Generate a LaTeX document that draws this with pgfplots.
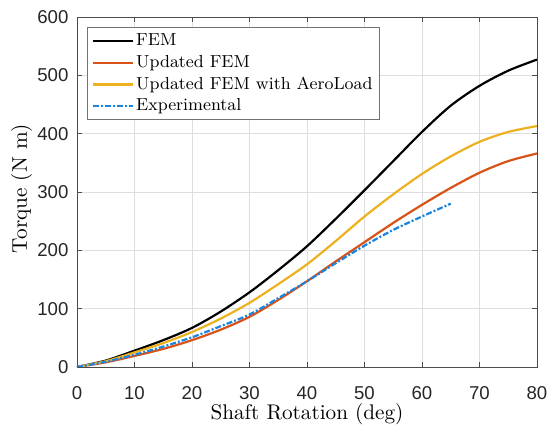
\documentclass[border=0pt]{standalone}
\usepackage{fontspec}
\newfontfamily\arial{Liberation Sans}
\usepackage{pgfplots}
\pgfplotsset{compat=1.18}

\definecolor{mblack}{rgb}{0,0,0}
\definecolor{mred}{rgb}{0.850,0.325,0.098}
\definecolor{myellow}{rgb}{0.929,0.694,0.125}
\definecolor{mblue}{rgb}{0.10,0.52,0.88}

\begin{document}
\begin{tikzpicture}
\useasboundingbox (-38.5pt,-30pt) rectangle (235pt,183.5pt);
\begin{axis}[
  scale only axis,
  width=230pt, height=175pt,
  xmin=0, xmax=80, ymin=0, ymax=600,
  xtick={0,10,...,80}, ytick={0,100,...,600},
  tick align=inside, major tick length=2.5pt,
  axis line style={black!70, line width=0.45pt},
  every tick/.style={black!70, line width=0.45pt},
  grid=major, grid style={black!13, line width=0.4pt},
  /pgf/number format/assume math mode=true,
  ticklabel style={font=\arial\fontsize{9.3}{10}\selectfont, text=black!85, inner sep=1pt},
  xticklabel style={yshift=-8.6pt},
  yticklabel style={xshift=-3.1pt},
  xlabel={Shaft Rotation (deg)},
  ylabel={Torque (N m)},
  label style={font=\fontsize{10.6}{12}\selectfont, inner sep=1pt},
  xlabel style={at={(axis description cs:0.5,-0.149)}, anchor=base},
  ylabel style={at={(axis description cs:-0.1087,0.51)}, anchor=base},
  legend cell align=left,
  legend style={at={(0,1)}, anchor=north west, xshift=5pt, yshift=-5pt,
    draw=black!55, line width=0.45pt, fill=white,
    font=\fontsize{8.7}{10}\selectfont,
    inner xsep=2pt, inner ysep=1.5pt,
    nodes={inner sep=1.3pt, text height=6.4pt, text depth=1.8pt}},
  legend image code/.code={\draw[#1] (0pt,0pt) -- (20pt,0pt);},
  every axis plot/.append style={line width=1.1pt, smooth},
]
\addplot[mblack] coordinates {
  (0,0) (5,11) (10,28) (15,46) (20,67) (25,95) (30,128) (35,166) (40,207)
  (45,254) (50,303) (55,353) (60,403) (65,448) (70,482) (75,508) (80,527)
};
\addlegendentry{FEM}
\addplot[mred] coordinates {
  (0,0) (5,8) (10,19) (15,31) (20,46) (25,64) (30,86) (35,115) (40,147)
  (45,181) (50,214) (55,247) (60,278) (65,307) (70,333) (75,353) (80,366)
};
\addlegendentry{Updated FEM}
\addplot[myellow] coordinates {
  (0,0) (5,10) (10,25) (15,41) (20,60) (25,83) (30,110) (35,142) (40,176)
  (45,216) (50,258) (55,296) (60,331) (65,361) (70,386) (75,403) (80,413)
};
\addlegendentry{Updated FEM with AeroLoad}
\addplot[mblue, dash pattern=on 3pt off 1pt on 1pt off 1pt] coordinates {
  (0,0) (5,9) (10,21) (15,35) (20,51) (25,70) (30,90) (35,118) (40,147)
  (45,178) (50,208) (55,235) (60,258) (65,280)
};
\addlegendentry{Experimental}
\end{axis}
\end{tikzpicture}
\end{document}
